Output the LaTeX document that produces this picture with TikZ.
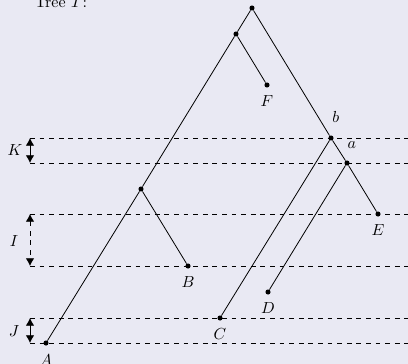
\documentclass[tikz,border=0pt]{standalone}
\usetikzlibrary{arrows.meta,positioning}
\definecolor{bgcol}{RGB}{233,233,243}
\tikzset{
  vertex/.style={circle, fill=black, inner sep=0pt, minimum size=3.2pt},
  branch/.style={line width=0.5pt},
  level/.style={dashed, line width=0.5pt},
  gap/.style={{Latex[length=1.7mm,width=1.9mm]}-{Latex[length=1.7mm,width=1.9mm]}, semithick},
  lab/.style={inner sep=1pt}
}
\begin{document}
\begin{tikzpicture}[x=0.625pt, y=-0.625pt]
  \fill[bgcol] (0,0) rectangle (408,364);
  \useasboundingbox (0,0) rectangle (408,364);
  \node[anchor=base west, lab] (title) at (33,7) {Tree $T$:};
  % levels
  \foreach \y [count=\i] in {138,163,214,266,318,343} {
    \coordinate (l\i) at (30,\y);
    \draw[level] (l\i) -- (410,\y);
  }
  \draw[gap] (l1) -- (l2);
  \draw[gap, dashed] (l3) -- (l4);
  \draw[gap] (l5) -- (l6);
  \node[lab] (K) at (15,150) {$K$};
  \node[lab] (I) at (14,241) {$I$};
  \node[lab] (J) at (14,331) {$J$};
  % tree
  \node[vertex] (r) at (252,8) {};
  \node[vertex] (u) at (236,34) {};
  \node[vertex] (f) at (267,85) {};
  \node[vertex] (b) at (331,138) {};
  \node[vertex] (a) at (347,163) {};
  \node[vertex] (v) at (141,189) {};
  \node[vertex] (e) at (378,214) {};
  \node[vertex] (bb) at (188,266) {};
  \node[vertex] (d) at (268,292) {};
  \node[vertex] (c) at (220,318) {};
  \node[vertex] (aa) at (46,343) {};
  \draw[branch] (r) -- (u); \draw[branch] (u) -- (f);
  \draw[branch] (u) -- (v); \draw[branch] (v) -- (aa);
  \draw[branch] (v) -- (bb);
  \draw[branch] (r) -- (b); \draw[branch] (b) -- (a);
  \draw[branch] (a) -- (e);
  \draw[branch] (b) -- (c); \draw[branch] (a) -- (d);
  \node[lab, below=3.5pt of f] (fl) {$F$};
  \node[lab, above=7pt of b, xshift=3pt] (bl) {$b$};
  \node[lab, above=6pt of a, xshift=3pt] (al) {$a$};
  \node[lab, below=3.5pt of e] (el) {$E$};
  \node[lab, below=3.5pt of bb] (bbl) {$B$};
  \node[lab, below=3.5pt of d] (dl) {$D$};
  \node[lab, below=3.5pt of c] (cl) {$C$};
  \node[lab, below=4.5pt of aa] (aal) {$A$};
\end{tikzpicture}
\end{document}
